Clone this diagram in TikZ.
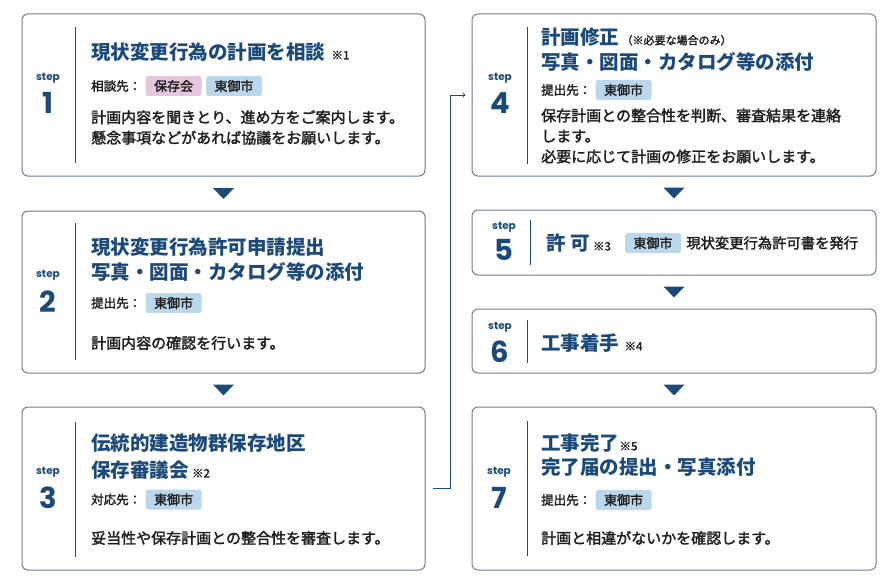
\documentclass[tikz,border=0pt]{standalone}
\usepackage{fontspec}
\setmainfont{Noto Sans CJK JP}
\newfontfamily\medfont{Noto Sans CJK JP}[FakeBold=2]
\newfontfamily\stepfont{Poppins}
\usetikzlibrary{positioning,calc}
\definecolor{navy}{HTML}{1B4A7A}
\definecolor{frame}{HTML}{6E7B98}
\definecolor{ink}{HTML}{1E1E1E}
\definecolor{tagblue}{HTML}{BAD7EC}
\definecolor{tagpink}{HTML}{E6C5DE}

\begin{document}
\begin{tikzpicture}[x=1pt,y=-1pt,
      box/.style = {draw=frame, line width=1pt, rounded corners=6pt, inner sep=0pt},
      rule/.style = {draw=navy, line width=1pt},
      steplbl/.style = {font=\stepfont\bfseries\fontsize{10.5}{10.5}\selectfont, text=navy, inner sep=0pt},
      stepnum/.style = {font=\stepfont\bfseries\fontsize{29}{29}\selectfont, text=navy, inner sep=0pt},
      ttl/.style = {anchor=west, inner sep=0pt, text=navy, font=\bfseries\fontsize{19.5}{25}\selectfont},
      note/.style = {anchor=base west, inner sep=0pt, text=ink, font=\medfont\fontsize{11.5}{11.5}\selectfont},
      lbl/.style = {anchor=west, inner sep=0pt, text=ink, font=\medfont\fontsize{12.5}{12.5}\selectfont},
      tag/.style = {fill=tagblue, rounded corners=2.5pt, minimum width=56pt, minimum height=20pt,
                    inner sep=0pt, text=ink, font=\medfont\fontsize{13}{13}\selectfont},
      pinktag/.style = {tag, fill=tagpink},
      body/.style = {anchor=west, align=left, inner sep=0pt, text=ink, font=\medfont\fontsize{15}{20.5}\selectfont},
      link/.style = {draw=navy, line width=0.9pt, ->, shorten <=7pt, shorten >=6pt}
      ]
      \useasboundingbox (0,0) rectangle (895,578);

      \node[box, minimum width=403pt, minimum height=162pt] (b1) at (223.5,95) {};
      \node[box, minimum width=403pt, minimum height=162pt] (b2) at (223.5,292) {};
      \node[box, minimum width=403pt, minimum height=163pt] (b3) at (223.5,488.5) {};
      \node[box, minimum width=404pt, minimum height=162pt] (b4) at (674,95) {};
      \node[box, minimum width=404pt, minimum height=65pt] (b5) at (674,242.5) {};
      \node[box, minimum width=404pt, minimum height=64pt] (b6) at (674,341) {};
      \node[box, minimum width=404pt, minimum height=163pt] (b7) at (674,488.5) {};

      \foreach \a/\b in {b1/b2,b2/b3,b4/b5,b5/b6,b6/b7}
        \fill[navy] ($(\a.south)!.5!(\b.north)$) +(-10.5,-5.5) -- +(10.5,-5.5) -- +(0,5.5) -- cycle;

      \draw[link] (b3.east) -- ++(25,0) |- (b4.west);

      % step 1
      \node[steplbl] (s1) at (48,78) {step};
      \node[stepnum] (k1) at (48,103) {1};
      \draw[rule] (75,27) -- (75,163);
      \node[ttl] (t1) at (91,52) {現状変更行為の計画を相談};
      \node[note] (n1) at ([xshift=6pt]t1.base east) {※1};
      \node[lbl] (l1) at (91,86) {相談先：};
      \node[pinktag, right=4pt of l1] (g1a) {保存会};
      \node[tag, right=4pt of g1a] (g1b) {東御市};
      \node[body] (d1) at (91,127.5) {計画内容を聞きとり、進め方をご案内します。\\懸念事項などがあれば協議をお願いします。};

      % step 2
      \node[steplbl] (s2) at (48,275) {step};
      \node[stepnum] (k2) at (48,302) {2};
      \draw[rule] (75,223) -- (75,360);
      \node[ttl] (t2a) at (91,247) {現状変更行為許可申請提出};
      \node[ttl] (t2b) at (91,272) {写真・図面・カタログ等の添付};
      \node[lbl] (l2) at (91,303) {提出先：};
      \node[tag, right=4pt of l2] (g2) {東御市};
      \node[body] (d2) at (91,343) {計画内容の確認を行います。};

      % step 3
      \node[steplbl] (s3) at (48,472) {step};
      \node[stepnum] (k3) at (48,498) {3};
      \draw[rule] (75,422) -- (75,557);
      \node[ttl] (t3a) at (91,443) {伝統的建造物群保存地区};
      \node[ttl] (t3b) at (91,470) {保存審議会};
      \node[note] (n3) at ([xshift=3pt]t3b.base east) {※2};
      \node[lbl] (l3) at (91,499.5) {対応先：};
      \node[tag, right=4pt of l3] (g3) {東御市};
      \node[body] (d3) at (91,538) {妥当性や保存計画との整合性を審査します。};

      % step 4
      \node[steplbl] (s4) at (500,78) {step};
      \node[stepnum] (k4) at (500,103) {4};
      \draw[rule] (527,27) -- (527,164);
      \node[ttl] (t4a) at (541,37) {計画修正};
      \node[note, font=\medfont\fontsize{11}{11}\selectfont] (n4) at ([xshift=2pt]t4a.base east) {（※必要な場合のみ）};
      \node[ttl] (t4b) at (541,62) {写真・図面・カタログ等の添付};
      \node[lbl] (l4) at (541,90) {提出先：};
      \node[tag, right=4pt of l4] (g4) {東御市};
      \node[body] (d4) at (541,136) {保存計画との整合性を判断、審査結果を連絡\\します。\\必要に応じて計画の修正をお願いします。};

      % step 5
      \node[steplbl] (s5) at (504,227) {step};
      \node[stepnum] (k5) at (504,250) {5};
      \draw[rule] (530,220) -- (530,265);
      \node[ttl] (t5) at (546,243) {許 可};
      \node[note] (n5) at ([xshift=3pt]t5.base east) {※3};
      \node[tag] (g5) at (653,243) {東御市};
      \node[lbl, right=5pt of g5, font=\medfont\fontsize{14.3}{14.3}\selectfont] (d5) {現状変更行為許可書を発行};

      % step 6
      \node[steplbl] (s6) at (500,327) {step};
      \node[stepnum] (k6) at (500,352) {6};
      \draw[rule] (527,320) -- (527,363);
      \node[ttl] (t6) at (541,343) {工事着手};
      \node[note] (n6) at ([xshift=5pt]t6.base east) {※4};

      % step 7
      \node[steplbl] (s7) at (499,472) {step};
      \node[stepnum] (k7) at (499,498) {7};
      \draw[rule] (527,421) -- (527,556);
      \node[ttl] (t7a) at (541,443) {工事完了};
      \node[note] (n7) at ([xshift=0pt]t7a.base east) {※5};
      \node[ttl] (t7b) at (541,467) {完了届の提出・写真添付};
      \node[lbl] (l7) at (541,500) {提出先：};
      \node[tag, right=4pt of l7] (g7) {東御市};
      \node[body] (d7) at (541,538) {計画と相違がないかを確認します。};
    \end{tikzpicture}
\end{document}
